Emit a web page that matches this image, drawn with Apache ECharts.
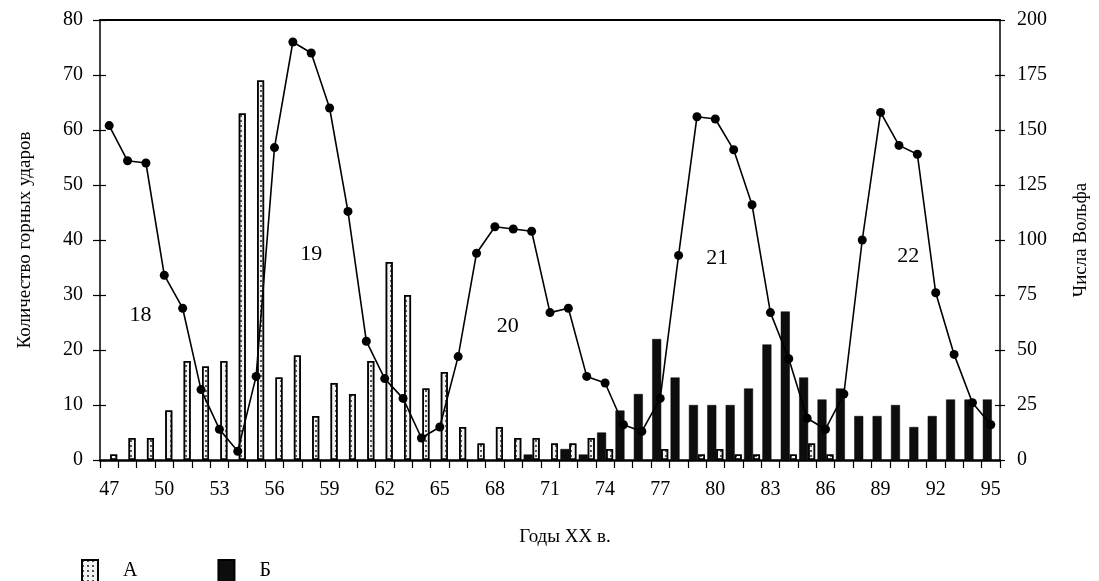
<!DOCTYPE html>
<html>
<head>
<meta charset="utf-8">
<script src="https://cdn.jsdelivr.net/npm/echarts@6/dist/echarts.min.js"></script>
<style>
html,body{margin:0;padding:0;background:#fff;}
#chart{width:1099px;height:581px;}
</style>
</head>
<body>
<div id="chart"></div>
<script>
// Years of the XX century
const years = ['47','48','49','50','51','52','53','54','55','56','57','58','59','60','61','62','63','64','65','66','67','68','69','70','71','72','73','74','75','76','77','78','79','80','81','82','83','84','85','86','87','88','89','90','91','92','93','94','95'];
// А – rock bursts (dotted bars)
const countA = [1,4,4,9,18,17,18,63,69,15,19,8,14,12,18,36,30,13,16,6,3,6,4,4,3,3,4,2,null,null,2,null,1,2,1,1,null,1,3,1,null,null,null,null,null,null,null,null,null];
// Б – rock bursts (black bars)
const countB = [null,null,null,null,null,null,null,null,null,null,null,null,null,null,null,null,null,null,null,null,null,null,null,1,null,2,1,5,9,12,22,15,10,10,10,13,21,27,15,11,13,8,8,10,6,8,11,11,11];
// Wolf numbers (right axis)
const wolf = [152,136,135,84,69,32,14,4,38,142,190,185,160,113,54,37,28,10,15,47,94,106,105,104,67,69,38,35,16,13,28,93,156,155,141,116,67,46,19,14,30,100,158,143,139,76,48,26,16];
// Solar cycle annotations (year position, left-axis level)
const cycleNames = ['18','19','20','21','22'];
const cycleYears = [48.7, 58.0, 68.7, 80.1, 90.5];
const cycleLevels = [26.3, 37.5, 24.3, 36.6, 37.0];

const FONT = 'Liberation Serif';
const chart = echarts.init(document.getElementById('chart'), null, {renderer: 'canvas'});

const yBase = {
  type: 'value',
  splitLine: {show: false},
  axisLine: {show: true, lineStyle: {color: '#000', width: 1.5}},
  axisLabel: {color: '#000', fontFamily: FONT, fontSize: 20, margin: 17},
};

const option = {
  animation: false,
  backgroundColor: '#fff',
  grid: {left: 100, right: 88, top: 20, bottom: 121},
  legend: {
    left: 76, top: 554,
    itemWidth: 16, itemHeight: 22, itemGap: 80,
    icon: 'rect',
    data: ['А', 'Б'],
    textStyle: {color: '#000', fontFamily: FONT, fontSize: 20, padding: [0, 0, 0, 20]}
  },
  xAxis: [
    {
      type: 'category',
      data: years,
      boundaryGap: true,
      axisLine: {lineStyle: {color: '#000', width: 2.5}},
      axisTick: {show: true, interval: 0, length: 8, lineStyle: {color: '#000', width: 1.2}},
      axisLabel: {interval: 2, color: '#000', fontFamily: FONT, fontSize: 20, margin: 20},
      name: 'Годы XX в.',
      nameLocation: 'middle',
      nameGap: 68,
      nameTextStyle: {color: '#000', fontFamily: FONT, fontSize: 19, padding: [0, 0, 0, 30]}
    },
    {
      type: 'value',
      position: 'top',
      min: 46.5, max: 95.5,
      axisLine: {show: true, onZero: false, lineStyle: {color: '#000', width: 2}},
      axisTick: {show: false},
      axisLabel: {show: false},
      splitLine: {show: false}
    }
  ],
  yAxis: [
    Object.assign({}, yBase, {
      position: 'left', min: 0, max: 80, interval: 10,
      axisTick: {show: true, length: 7, lineStyle: {color: '#000', width: 1.2}},
      name: 'Количество горных ударов',
      nameLocation: 'middle', nameRotate: 90, nameGap: 65,
      nameTextStyle: {color: '#000', fontFamily: FONT, fontSize: 19}
    }),
    Object.assign({}, yBase, {
      position: 'right', min: 0, max: 200, interval: 25,
      axisTick: {show: true, length: 5, lineStyle: {color: '#000', width: 1.2}},
      name: 'Числа Вольфа',
      nameLocation: 'middle', nameRotate: 90, nameGap: 72,
      nameTextStyle: {color: '#000', fontFamily: FONT, fontSize: 19}
    }),
    {
      type: 'value', position: 'left', min: 0, max: 80, interval: 10,
      axisLine: {show: false}, axisLabel: {show: false}, splitLine: {show: false},
      axisTick: {show: true, inside: true, length: 6, lineStyle: {color: '#000', width: 1.2}}
    },
    {
      type: 'value', position: 'right', min: 0, max: 200, interval: 25,
      axisLine: {show: false}, axisLabel: {show: false}, splitLine: {show: false},
      axisTick: {show: true, inside: true, length: 5, lineStyle: {color: '#000', width: 1.2}}
    }
  ],
  series: [
    {
      name: 'Б',
      type: 'bar',
      xAxisIndex: 0, yAxisIndex: 0,
      data: countB,
      barWidth: 9,
      barGap: '0%',
      itemStyle: {color: '#0d0d0d', borderColor: '#000', borderWidth: 0.5}
    },
    {
      name: 'А',
      type: 'bar',
      xAxisIndex: 0, yAxisIndex: 0,
      data: countA,
      barWidth: 7,
      barGap: '0%',
      itemStyle: {
        color: '#f3f3f3', borderColor: '#000', borderWidth: 1.5,
        decal: {symbol: 'rect', symbolSize: 1, dashArrayX: [1.4, 2.2], dashArrayY: [1.4, 3], color: '#555'}
      }
    },
    {
      name: 'wolf',
      type: 'line',
      xAxisIndex: 0, yAxisIndex: 1,
      data: wolf,
      symbol: 'circle', symbolSize: 9,
      itemStyle: {color: '#000'},
      lineStyle: {color: '#000', width: 1.6},
      z: 5
    },
    {
      name: 'cycles',
      type: 'scatter',
      xAxisIndex: 1, yAxisIndex: 0,
      symbolSize: 1,
      itemStyle: {color: 'rgba(0,0,0,0)', opacity: 1},
      data: cycleNames.map((n, i) => ({name: n, value: [cycleYears[i], cycleLevels[i]]})),
      label: {show: true, position: 'inside', formatter: p => p.name, color: '#000', opacity: 1, fontFamily: FONT, fontSize: 22},
      silent: true,
      z: 6
    }
  ]
};
chart.setOption(option);
</script>
</body>
</html>
